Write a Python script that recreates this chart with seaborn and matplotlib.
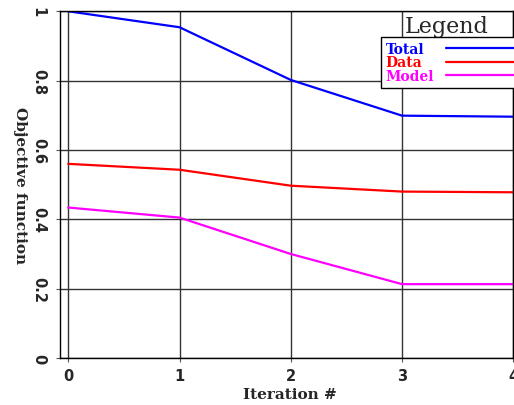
import pandas as pd
import numpy as np
import matplotlib
matplotlib.use("Agg")
import matplotlib.pyplot as plt
import seaborn as sns
from matplotlib.font_manager import FontProperties

# values
iterations = [0, 1, 2, 3, 4]
total = [1.0, 0.954, 0.802, 0.699, 0.696]
data_term = [0.560, 0.543, 0.497, 0.480, 0.478]
model_term = [0.434, 0.405, 0.300, 0.213, 0.213]

series_names = ["Total", "Data", "Model"]
series_colors = ["#0000ff", "#ff0000", "#ff00ff"]
y_ticks = [0, 0.2, 0.4, 0.6, 0.8, 1]
y_tick_labels = ["0", "0.2", "0.4", "0.6", "0.8", "1"]

sns.set_style("white")

df = pd.DataFrame({
    "iteration": iterations * 3,
    "value": total + data_term + model_term,
    "series": sum([[n] * len(iterations) for n in series_names], []),
})

W, H = 514, 406
fig = plt.figure(figsize=(W / 100, H / 100), dpi=100)
# axes box in pixels: left 59.7, right 513.3, top 12.3, bottom 359
ax = fig.add_axes([59.7 / W, (H - 359) / H, 453.6 / W, 346.7 / H])

sns.lineplot(data=df, x="iteration", y="value", hue="series",
             hue_order=series_names, palette=series_colors,
             linewidth=1.6, ax=ax, legend=False)

ax.set_xlim(-0.077, 4)
ax.set_ylim(0, 1)
ax.set_xticks(iterations)
ax.set_yticks(y_ticks)

tick_font = FontProperties(family="DejaVu Sans", weight="bold", size=10.5)
label_font = FontProperties(family="DejaVu Serif", weight="bold", size=11)

ax.set_xticklabels([str(i) for i in iterations], fontproperties=tick_font)
ax.set_yticklabels(y_tick_labels, fontproperties=tick_font, rotation=-90,
                   va="center")
ax.tick_params(axis="both", direction="out", length=3, width=0.8,
               color="#555555", pad=4, bottom=True, left=True)
ax.tick_params(axis="y", pad=7)

ax.grid(True, color="#333333", linewidth=1)
for s in ax.spines.values():
    s.set_color("black")
    s.set_linewidth(1)

ax.set_xlabel("Iteration #", fontproperties=label_font)
ax.xaxis.set_label_coords(0.508, -0.104)
ax.xaxis.label.set_va("center")
ax.set_ylabel("Objective function", fontproperties=label_font, rotation=-90)
ax.yaxis.set_label_coords(-0.0875, 0.5)
ax.yaxis.label.set_va("center")
ax.yaxis.label.set_ha("center")

# legend: text first, line after, box runs off the right edge
leg = ax.legend(ax.lines[:3], series_names, markerfirst=False,
                loc="upper left", bbox_to_anchor=(0.7077, 0.925),
                borderaxespad=0, fancybox=False, edgecolor="black",
                framealpha=1, handlelength=5.5, handletextpad=0.85,
                labelspacing=-0.05, borderpad=0.35,
                prop=FontProperties(family="DejaVu Serif", weight="bold",
                                    size=10))
leg.get_frame().set_linewidth(1)
for txt, c in zip(leg.get_texts(), series_colors):
    txt.set_color(c)

# markerfirst=False right-aligns the labels; shift them back to the left
fig.canvas.draw()
r = fig.canvas.get_renderer()
widths = [t.get_window_extent(r).width for t in leg.get_texts()]
for t, w in zip(leg.get_texts(), widths):
    t.set_x(-(max(widths) - w))

ax.text(0.761, 0.940, "Legend", transform=ax.transAxes, ha="left",
        va="baseline", fontfamily="DejaVu Serif", fontsize=16)

fig.savefig("out.png", dpi=100)
